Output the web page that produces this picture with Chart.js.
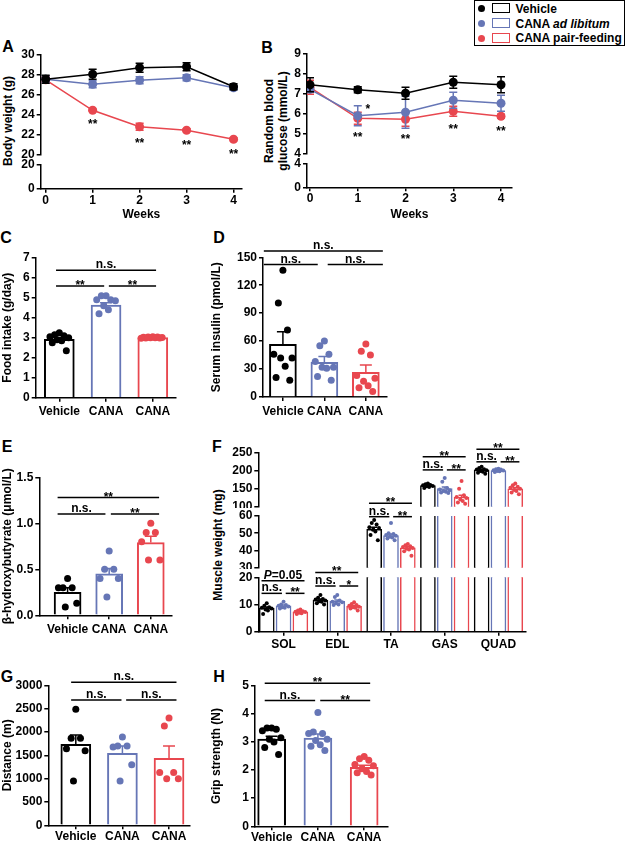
<!DOCTYPE html>
<html lang="en">
<head>
<meta charset="UTF-8" />
<title>CANA panels</title>
<script src="https://cdn.jsdelivr.net/npm/chart.js"></script>
<style>
  body { margin: 0; background: #fff; }
  #fig {
    position: relative; width: 626px; height: 841px; overflow: hidden;
    font-family: 'Liberation Sans', Arial, sans-serif; font-weight: bold; color: #000;
  }
  #fig canvas { position: absolute; }
  .letter { position: absolute; font-size: 16px; line-height: 1; transform: translate(-50%, -50%); }
  .ytitle {
    position: absolute; font-size: 12px; line-height: 14px; white-space: nowrap; text-align: center;
    transform: translate(-50%, -50%) rotate(-90deg);
  }
  #legend { position: absolute; left: 474px; top: 0; width: 149px; height: 44px; border: 1.5px solid #000; }
  #legend .row { position: absolute; left: 0; height: 14px; font-size: 12px; line-height: 14px; white-space: nowrap; }
  #legend .dot { position: absolute; left: 3px; top: 3.5px; width: 7px; height: 7px; border-radius: 50%; }
  #legend .box { position: absolute; left: 16.5px; top: 1.5px; width: 16px; height: 8px; border: 1.5px solid; }
  #legend .txt { position: absolute; left: 40.5px; top: 0; }
</style>
</head>
<body>
<div id="fig">
  <div class="letter" style="left:8px; top:47px">A</div>
  <div class="letter" style="left:267px; top:48px">B</div>
  <div class="letter" style="left:6px; top:238px">C</div>
  <div class="letter" style="left:219px; top:238px">D</div>
  <div class="letter" style="left:7px; top:447px">E</div>
  <div class="letter" style="left:217px; top:447px">F</div>
  <div class="letter" style="left:7px; top:677px">G</div>
  <div class="letter" style="left:219px; top:677px">H</div>

  <div class="ytitle" style="left:8px; top:121px">Body weight (g)</div>
  <div class="ytitle" style="left:276px; top:121px">Random blood<br>glucose (mmol/L)</div>
  <div class="ytitle" style="left:218px; top:545px">Muscle weight (mg)</div>

  <div id="legend">
    <div class="row" style="top:0.8px"><span class="dot" style="background:#000"></span><span class="box" style="border-color:#000"></span><span class="txt">Vehicle</span></div>
    <div class="row" style="top:15.5px"><span class="dot" style="background:#6676b6"></span><span class="box" style="border-color:#6676b6"></span><span class="txt">CANA <i>ad libitum</i></span></div>
    <div class="row" style="top:30.2px"><span class="dot" style="background:#e8474f"></span><span class="box" style="border-color:#e8474f"></span><span class="txt">CANA pair-feeding</span></div>
  </div>
</div>

<script>
  // ---------- data ----------
  const weeks = [0, 1, 2, 3, 4];
  const groupTicks = ['Vehicle', 'CANA', 'CANA'];
  const muscles = ['SOL', 'EDL', 'TA', 'GAS', 'QUAD'];

  // A: body weight (g), mean and SEM per week
  const bwVehicle = [27.5, 28.0, 28.65, 28.75, 26.75];
  const bwVehicleSem = [0.4, 0.5, 0.45, 0.4, 0.3];
  const bwAdlib = [27.5, 27.0, 27.4, 27.65, 26.65];
  const bwAdlibSem = [0.35, 0.35, 0.35, 0.3, 0.2];
  const bwPair = [27.45, 24.4, 22.75, 22.4, 21.5];
  const bwPairSem = [0.3, 0.1, 0.35, 0.15, 0.15];
  const bwSigPair = ['', '**', '**', '**', '**'];

  // B: random blood glucose (mmol/L)
  const gluVehicle = [7.43, 7.18, 7.0, 7.55, 7.43];
  const gluVehicleSem = [0.35, 0.15, 0.3, 0.3, 0.4];
  const gluAdlib = [7.2, 5.88, 6.05, 6.65, 6.5];
  const gluAdlibSem = [0.15, 0.5, 0.8, 0.4, 0.4];
  const gluPair = [7.3, 5.75, 5.7, 6.1, 5.85];
  const gluPairSem = [0.35, 0.3, 0.35, 0.25, 0.1];
  const gluSigAdlib = ['', '*', '', '', ''];
  const gluSigPair = ['', '**', '**', '**', '**'];

  // significance order: [Vehicle vs pair, Vehicle vs ad lib, ad lib vs pair]
  // C: food intake (g/day)
  const foodVehicle = [3.25, 3.15, 3.1, 3.05, 3.0, 2.9, 2.85, 2.75, 2.35];
  const foodAdlib = [5.1, 5.1, 4.9, 4.9, 4.85, 4.6, 4.4, 4.2];
  const foodPair = [3.05, 3.04, 3.03, 3.02, 3.01, 3.0, 3.0, 2.99, 2.98, 2.97];
  const foodMean = [2.92, 4.63, 3.01];
  const foodSem = [0.09, 0.12, 0.01];
  const foodSig = ['n.s.', '**', '**'];

  // D: serum insulin (pmol/L)
  const insVehicle = [136, 101, 72, 46, 42, 42, 33, 21, 18];
  const insAdlib = [60, 55, 46, 38, 32, 32, 31, 22, 18];
  const insPair = [57, 49, 45, 23, 20, 17, 12, 10, 6];
  const insMean = [56.5, 37.2, 26.5];
  const insSem = [13.5, 6.4, 7.8];
  const insSig = ['n.s.', 'n.s.', 'n.s.'];

  // E: beta-hydroxybutyrate (umol/L)
  const bhbVehicle = [0.4, 0.3, 0.3, 0.3, 0.13, 0.09];
  const bhbAdlib = [0.7, 0.5, 0.5, 0.4, 0.4, 0.2];
  const bhbPair = [1.0, 0.9, 0.9, 0.8, 0.6, 0.6];
  const bhbMean = [0.25, 0.45, 0.79];
  const bhbSem = [0.05, 0.06, 0.07];
  const bhbSig = ['**', 'n.s.', '**'];

  // F: muscle weight (mg), points per muscle as [Vehicle, ad libitum, pair-feeding]
  const solPoints = [[10.5, 9.5, 9.0, 8.8, 8.5, 8.2, 7.8, 6.5], [11.0, 10.0, 9.8, 9.5, 9.3, 9.0, 8.8, 8.5], [8.2, 7.8, 7.5, 7.3, 7.2, 7.0, 6.8, 6.5]];
  const edlPoints = [[13.5, 12.5, 12.0, 11.8, 11.5, 11.2, 11.0, 10.5, 10.0], [13.5, 12.8, 11.5, 11.0, 10.8, 10.5, 10.0, 9.8], [10.8, 10.2, 9.8, 9.5, 9.2, 9.0, 8.8, 8.5, 7.8]];
  const taPoints = [[57.7, 56, 55, 53.5, 53, 52, 51, 49, 46], [56, 50, 49.5, 49, 48.5, 48, 47.5, 47, 46], [43.8, 43, 42.5, 42, 41.5, 41, 40.5, 39.5, 37]];
  const gasPoints = [[165, 163, 161, 160, 158, 157, 155, 152], [180, 170, 152, 148, 146, 144, 142, 140, 138], [172, 150, 132, 127, 124, 120, 116, 112, 108]];
  const quadPoints = [[212, 208, 205, 204, 202, 200, 198, 195, 192], [206, 205, 204, 202, 201, 200, 199, 197], [165, 160, 156, 153, 150, 147, 144, 140, 135]];
  const musclePoints = [solPoints, edlPoints, taPoints, gasPoints, quadPoints];
  const muscleMeans = [[8.7, 11.6, 52.3, 159, 203], [9.5, 11.2, 48.6, 151, 201], [7.3, 9.3, 41.6, 127, 150]];
  const muscleSems = [[0.4, 0.4, 1.1, 1.5, 1.8], [0.3, 0.5, 1.0, 4, 0.8], [0.2, 0.3, 0.6, 5, 3]];
  const muscleSig = [['P=0.05', 'n.s.', '**'], ['**', 'n.s.', '*'], ['**', 'n.s.', '**'], ['**', 'n.s.', '**'], ['**', 'n.s.', '**']];

  // G: running distance (m)
  const distVehicle = [2485, 1865, 1865, 1640, 1600, 950];
  const distAdlib = [1890, 1700, 1700, 1680, 1300, 950];
  const distPair = [2300, 2130, 1130, 1130, 1000, 1000];
  const distMean = [1735, 1542, 1435];
  const distSem = [200, 158, 265];
  const distSig = ['n.s.', 'n.s.', 'n.s.'];

  // H: grip strength (N)
  const gripVehicle = [3.5, 3.5, 3.45, 3.4, 3.15, 3.1, 3.0, 2.8, 2.55];
  const gripAdlib = [4.05, 3.35, 3.3, 3.3, 3.1, 3.05, 2.9, 2.85, 2.7];
  const gripPair = [2.48, 2.4, 2.35, 2.2, 2.15, 2.05, 1.95, 1.9, 1.82];
  const gripMean = [3.1, 3.14, 2.1];
  const gripSem = [0.1, 0.14, 0.07];
  const gripSig = ['**', 'n.s.', '**'];

  // ---------- style ----------
  const colors = ['#000000', '#6676b6', '#e8474f'];
  const FONT = "'Liberation Sans', Arial, sans-serif";
  Chart.defaults.font.family = FONT;
  Chart.defaults.font.size = 12;
  Chart.defaults.font.weight = 'bold';
  Chart.defaults.color = '#000';

  const fig = document.getElementById('fig');
  function place(x, y, w, h) {
    const c = document.createElement('canvas');
    c.width = w; c.height = h;
    c.style.left = x + 'px'; c.style.top = y + 'px';
    fig.appendChild(c);
    return c;
  }

  // pin axis box size so every chart area lands where it should
  function fixSize(size) {
    return s => {
      if (s.isHorizontal()) s.height = size; else s.width = size;
      s.paddingLeft = s.paddingRight = s.paddingTop = s.paddingBottom = 0;
    };
  }

  const gridStyle = { display: true, offset: false, drawOnChartArea: false, drawTicks: true, tickLength: 4, color: '#000', lineWidth: 1.5 };
  const borderStyle = { display: true, color: '#000', width: 1.5 };

  function yAxis(min, max, step, width, dec, title, titlePad) {
    const ax = {
      type: 'linear', min, max,
      afterBuildTicks: s => {
        s.ticks = [];
        for (let v = min; v <= max + step / 100; v += step) s.ticks.push({ value: Math.round(v * 1000) / 1000 });
      },
      afterFit: fixSize(width),
      grid: gridStyle, border: borderStyle,
      ticks: { padding: 2, autoSkip: false, callback: v => v.toFixed(dec) }
    };
    if (title) ax.title = { display: true, text: title, padding: { top: titlePad, bottom: 0 } };
    return ax;
  }

  function xAxis(min, max, values, labels, height, pad, show) {
    return {
      type: 'linear', min, max, display: show, offset: false,
      afterBuildTicks: s => { s.ticks = values.map(v => ({ value: v })); },
      afterFit: fixSize(height),
      grid: gridStyle, border: borderStyle,
      ticks: { padding: pad, autoSkip: false, maxRotation: 0, callback: (v, i) => labels[i] }
    };
  }

  // dots of a group fanned out sideways, in the order they are listed
  const FAN = [0, -1, 1, -2, 2, -0.5, 0.5, -1.5, 1.5, -2.5, 2.5];
  function spread(values, center, step) {
    return values.map((v, i) => ({ x: center + FAN[i % FAN.length] * step, y: v }));
  }

  function drawLabel(ctx, text, cx, base) {
    ctx.save();
    ctx.fillStyle = '#000';
    ctx.textBaseline = 'alphabetic';
    if (text.startsWith('P=')) {
      const a = 'italic bold 12px ' + FONT, b = 'bold 12px ' + FONT;
      ctx.font = a; const w1 = ctx.measureText('P').width;
      ctx.font = b; const w2 = ctx.measureText(text.slice(1)).width;
      const x0 = cx - (w1 + w2) / 2;
      ctx.textAlign = 'left';
      ctx.font = a; ctx.fillText('P', x0, base);
      ctx.font = b; ctx.fillText(text.slice(1), x0 + w1, base);
    } else {
      ctx.font = 'bold 12px ' + FONT;
      ctx.textAlign = 'center';
      ctx.fillText(text, cx, base);
    }
    ctx.restore();
  }

  // mean +/- SEM whiskers, read from dataset.sem
  const errorBars = {
    id: 'errorBars',
    afterDatasetDraw(chart, args) {
      const ds = chart.data.datasets[args.index];
      if (!ds.sem) return;
      const y = chart.scales.y, ctx = chart.ctx, a = chart.chartArea;
      ctx.save();
      ctx.beginPath();
      ctx.rect(a.left, a.top - 1, a.right - a.left, a.bottom - a.top + 2);
      ctx.clip();
      ctx.lineWidth = 1.5;
      args.meta.data.forEach((el, i) => {
        const v = ds.data[i].y, e = ds.sem[i];
        const top = y.getPixelForValue(v + e), bot = y.getPixelForValue(ds.upOnly ? v : v - e);
        ctx.strokeStyle = Array.isArray(ds.borderColor) ? ds.borderColor[i] : ds.borderColor;
        ctx.beginPath();
        ctx.moveTo(el.x, top); ctx.lineTo(el.x, bot);
        ctx.moveTo(el.x - ds.cap, top); ctx.lineTo(el.x + ds.cap, top);
        if (!ds.upOnly) { ctx.moveTo(el.x - ds.cap, bot); ctx.lineTo(el.x + ds.cap, bot); }
        ctx.stroke();
      });
      ctx.restore();
    }
  };

  // significance lines: [x1, x2, yValue, text]
  const brackets = {
    id: 'brackets',
    afterDraw(chart, args, opts) {
      const x = chart.scales.x, y = chart.scales.y, ctx = chart.ctx;
      (opts.items || []).forEach(([x1, x2, v, text]) => {
        const p1 = x.getPixelForValue(x1), p2 = x.getPixelForValue(x2), py = y.getPixelForValue(v);
        ctx.save();
        ctx.strokeStyle = '#000'; ctx.lineWidth = 1.5;
        ctx.beginPath(); ctx.moveTo(p1, py); ctx.lineTo(p2, py); ctx.stroke();
        ctx.restore();
        drawLabel(ctx, text, (p1 + p2) / 2, /^\*+$/.test(text) ? py + 3 : py - 2);
      });
    }
  };

  // stars next to points of a line dataset
  const starMarks = {
    id: 'starMarks',
    afterDatasetsDraw(chart, args, opts) {
      const y = chart.scales.y;
      (opts.items || []).forEach(it => {
        const meta = chart.getDatasetMeta(it.dataset), ds = chart.data.datasets[it.dataset];
        it.texts.forEach((t, i) => {
          if (!t) return;
          const el = meta.data[i];
          if (it.side === 'below') drawLabel(chart.ctx, t, el.x, y.getPixelForValue(ds.data[i].y - ds.sem[i]) + 17);
          else drawLabel(chart.ctx, t, el.x + 10, y.getPixelForValue(ds.data[i].y + ds.sem[i]) + 7);
        });
      });
    }
  };

  function triple(sig, spans, levels) {
    return [
      [spans[0][0], spans[0][1], levels[0], sig[0]],
      [spans[1][0], spans[1][1], levels[1], sig[1]],
      [spans[2][0], spans[2][1], levels[1], sig[2]]
    ];
  }

  function layoutFor(box, area, bottomPad) {
    const [bx, by, bw, bh] = box, [l, t, r, b] = area;
    return { autoPadding: false, padding: { left: 0, top: t - by, right: bx + bw - r, bottom: bottomPad } };
  }

  // ---------- line panels (A, B) ----------
  function linePanel(box, area, xr, yr, dec, sets, showX, stars) {
    const [bx, by, bw, bh] = box, [l, t, r, b] = area;
    const datasets = sets.map(([means, sems], k) => ({
      type: 'line', clip: 0,
      data: weeks.map((w, i) => ({ x: w, y: means[i] })),
      sem: sems, cap: 4,
      borderColor: colors[k], backgroundColor: colors[k],
      borderWidth: 1.5, pointRadius: 4.5, pointBorderWidth: 0
    }));
    const x = xAxis(xr[0], xr[1], weeks, weeks, showX ? by + bh - b : 0, 0.5, showX);
    if (showX) x.title = { display: true, text: 'Weeks', padding: { top: 0, bottom: 2 } };
    return new Chart(place(bx, by, bw, bh), {
      type: 'line',
      data: { datasets },
      options: {
        responsive: false, animation: false,
        layout: layoutFor(box, area, showX ? 0 : by + bh - b),
        scales: { x, y: yAxis(yr[0], yr[1], yr[2], l - bx, dec) },
        plugins: { legend: { display: false }, tooltip: { enabled: false }, starMarks: { items: stars } }
      },
      plugins: [errorBars, starMarks]
    });
  }

  const bwSets = [[bwVehicle, bwVehicleSem], [bwAdlib, bwAdlibSem], [bwPair, bwPairSem]];
  linePanel([0, 40, 250, 120], [40.7, 54.3, 242, 154.3], [-0.106, 4.18], [20, 30, 2], 0, bwSets, false,
    [{ dataset: 2, side: 'below', texts: bwSigPair }]);
  linePanel([0, 158, 250, 66], [40.7, 164.3, 242, 188.7], [-0.106, 4.18], [0, 20, 20], 0, [], true, []);

  const gluSets = [[gluVehicle, gluVehicleSem], [gluAdlib, gluAdlibSem], [gluPair, gluPairSem]];
  linePanel([262, 40, 262, 120], [307, 53.3, 512, 153.3], [-0.063, 4.23], [4, 9, 1], 0, gluSets, false,
    [{ dataset: 2, side: 'below', texts: gluSigPair }, { dataset: 1, side: 'right', texts: gluSigAdlib }]);
  linePanel([262, 158, 262, 66], [307, 164, 512, 187.3], [-0.063, 4.23], [0, 4, 4], 0, [], true, []);

  // ---------- bar + dot panels (C, D, E, G, H) ----------
  function barPanel(p) {
    const [bx, by, bw, bh] = p.box, [l, t, r, b] = p.area;
    const datasets = p.points.map((vals, k) => ({
      type: 'scatter', order: 0, clip: 0,
      data: spread(vals, k, p.step),
      backgroundColor: colors[k], pointRadius: 3.5, pointBorderWidth: 0
    }));
    datasets.push({
      type: 'bar', order: 1, clip: 0, grouped: false,
      data: p.means.map((m, k) => ({ x: k, y: m })),
      sem: p.sems, upOnly: true, cap: 6,
      backgroundColor: '#fff', borderColor: colors, borderWidth: 2,
      categoryPercentage: 1, barPercentage: 1, maxBarThickness: p.barWidth
    });
    return new Chart(place(bx, by, bw, bh), {
      type: 'bar',
      data: { datasets },
      options: {
        responsive: false, animation: false,
        layout: layoutFor(p.box, p.area, 0),
        scales: {
          x: xAxis(p.xr[0], p.xr[1], [0, 1, 2], groupTicks, by + bh - b, p.labelPad, true),
          y: yAxis(p.yr[0], p.yr[1], p.yr[2], l - bx, p.dec, p.title, p.titlePad)
        },
        plugins: { legend: { display: false }, tooltip: { enabled: false }, brackets: { items: p.brackets } }
      },
      plugins: [errorBars, brackets]
    });
  }

  barPanel({
    box: [0, 240, 185, 181], area: [35.7, 257.7, 175.7, 397.7], xr: [-0.505, 2.49], yr: [0, 7, 1], dec: 0,
    title: 'Food intake (g/day)', titlePad: 0, barWidth: 30, step: 0.1, labelPad: 3,
    points: [foodVehicle, foodAdlib, foodPair], means: foodMean, sems: foodSem,
    brackets: triple(foodSig, [[-0.07, 2.07], [-0.07, 0.96], [1.06, 2.07]], [6.37, 5.59])
  });
  barPanel({
    box: [205, 236, 190, 185], area: [263, 257.3, 387, 397], xr: [-0.48, 2.51], yr: [0, 150, 30], dec: 0,
    title: 'Serum insulin (pmol/L)', titlePad: 4, barWidth: 27, step: 0.11, labelPad: 3,
    points: [insVehicle, insAdlib, insPair], means: insMean, sems: insSem,
    brackets: triple(insSig, [[-0.46, 2.41], [-0.46, 0.84], [1.08, 2.41]], [156.8, 142.2])
  });
  barPanel({
    box: [0, 450, 185, 189], area: [39.3, 477.3, 172, 615.3], xr: [-0.68, 2.51], yr: [0, 1.5, 0.5], dec: 1,
    title: 'β-hydroxybutyrate (μmol/L)', titlePad: 0, barWidth: 27, step: 0.11, labelPad: 3,
    points: [bhbVehicle, bhbAdlib, bhbPair], means: bhbMean, sems: bhbSem,
    brackets: triple(bhbSig, [[-0.24, 2.2], [-0.24, 0.91], [1.04, 2.2]], [1.28, 1.10])
  });
  barPanel({
    box: [0, 665, 200, 176], area: [48.3, 685.3, 190, 825.3], xr: [-0.59, 2.45], yr: [0, 3000, 500], dec: 0,
    title: 'Distance (m)', titlePad: 0, barWidth: 30, step: 0.1, labelPad: 0,
    points: [distVehicle, distAdlib, distPair], means: distMean, sems: distSem,
    brackets: triple(distSig, [[-0.1, 2.16], [-0.1, 0.98], [1.08, 2.16]], [3065, 2685])
  });
  barPanel({
    box: [205, 665, 190, 176], area: [255, 685.7, 387.3, 826.3], xr: [-0.36, 2.5], yr: [0, 5, 1], dec: 0,
    title: 'Grip strength (N)', titlePad: 4, barWidth: 28, step: 0.1, labelPad: 0,
    points: [gripVehicle, gripAdlib, gripPair], means: gripMean, sems: gripSem,
    brackets: triple(gripSig, [[-0.15, 2.13], [-0.15, 0.94], [1.05, 2.13]], [5.09, 4.47])
  });

  // ---------- F: muscle weights on a three-piece broken axis ----------
  const F_OFF = 0.313;
  const muscleLevels = [[18.75, 14.1], [21.8, 16.8], [67.4, 59.6], [240, 203], [261, 225.6]];
  const muscleSegment = ['low', 'low', 'mid', 'top', 'top'];

  function musclePanel(name, box, area, yr, showX) {
    const [bx, by, bw, bh] = box, [l, t, r, b] = area;
    const datasets = [];
    for (let k = 0; k < 3; k++) {
      datasets.push({
        type: 'scatter', order: 0, clip: 0,
        data: muscles.flatMap((m, i) => spread(musclePoints[i][k], i + (k - 1) * F_OFF, 0.045)),
        backgroundColor: colors[k], pointRadius: 2, pointBorderWidth: 0
      });
    }
    for (let k = 0; k < 3; k++) {
      datasets.push({
        type: 'bar', order: 1, clip: 0, grouped: false,
        data: muscles.map((m, i) => ({ x: i + (k - 1) * F_OFF, y: muscleMeans[k][i] })),
        sem: muscleSems[k], upOnly: true, cap: 3,
        backgroundColor: '#fff', borderColor: colors[k], borderWidth: 1.5,
        categoryPercentage: 1, barPercentage: 1, maxBarThickness: 15
      });
    }
    const items = [];
    muscles.forEach((m, i) => {
      if (muscleSegment[i] !== name) return;
      items.push(...triple(muscleSig[i], [[i - 0.41, i + 0.39], [i - 0.41, i - 0.03], [i + 0.04, i + 0.39]], muscleLevels[i]));
    });
    return new Chart(place(bx, by, bw, bh), {
      type: 'bar',
      data: { datasets },
      options: {
        responsive: false, animation: false,
        layout: layoutFor(box, area, showX ? 0 : by + bh - b),
        scales: {
          x: xAxis(-0.47, 4.5, [0, 1, 2, 3, 4], muscles, showX ? by + bh - b : 0, 2, showX),
          y: yAxis(yr[0], yr[1], yr[2], l - bx, 0)
        },
        plugins: { legend: { display: false }, tooltip: { enabled: false }, brackets: { items } }
      },
      plugins: [errorBars, brackets]
    });
  }

  musclePanel('top', [200, 435, 335, 73], [258.3, 453.1, 525.3, 506.7], [100, 250, 50], false);
  musclePanel('mid', [200, 494, 335, 75], [258.3, 516, 525.3, 567.7], [30, 60, 10], false);
  musclePanel('low', [200, 555, 335, 105], [258.3, 577.3, 525.3, 631.7], [0, 20, 10], true);
</script>
</body>
</html>
